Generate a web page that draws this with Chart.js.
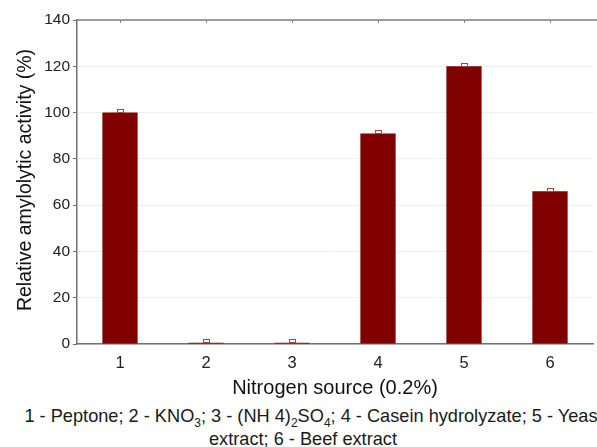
<!DOCTYPE html>
<html>
<head>
<meta charset="utf-8">
<script src="https://cdn.jsdelivr.net/npm/chart.js@4"></script>
<style>
  html, body { margin: 0; padding: 0; background: #fff; overflow: hidden; }
  #wrap { width: 630px; }
  #box { width: 616px; height: 402px; }
  .cap { font-family: Arial, "Liberation Sans", sans-serif; font-size: 18.2px; color: #1a1a1a;
         text-align: center; line-height: 23px; white-space: nowrap; }
  .first { margin-top: 3px; width: 627px; }
  .second { width: 606px; }
  sub { font-size: 12px; line-height: 0; }
</style>
</head>
<body>
<div id="wrap">
  <div id="box"><canvas id="barChart"></canvas></div>
  <div class="cap first">1 - Peptone; 2 - KNO<sub>3</sub>; 3 - (NH 4)<sub>2</sub>SO<sub>4</sub>; 4 - Casein hydrolyzate; 5 - Yeast</div>
  <div class="cap second">extract; 6 - Beef extract</div>
</div>
<script>
const categories = ["1", "2", "3", "4", "5", "6"];
const activity = [100, 0.5, 0.5, 91, 120, 66];
const activityErr = [1.5, 1.5, 1.5, 1.5, 1.5, 1.5];
const yTicks = [0, 20, 40, 60, 80, 100, 120, 140];
const yTitle = "Relative amylolytic activity (%)";

const font = "Arial, 'Liberation Sans', sans-serif";

// small hollow boxes on top of bars (error range)
const errorBars = {
  id: "errorBars",
  afterDatasetsDraw(chart) {
    const { ctx, scales } = chart;
    ctx.save();
    ctx.strokeStyle = "#b04040";
    ctx.lineWidth = 1;
    activity.forEach((v, i) => {
      const x = scales.x.getPixelForValue(i);
      const top = scales.y.getPixelForValue(v + activityErr[i]);
      const bot = scales.y.getPixelForValue(v);
      ctx.strokeRect(Math.round(x - 3) + 0.5, Math.round(top) + 0.5, 6, Math.max(2, Math.round(bot - top)));
    });
    ctx.restore();
  },
};

// top frame line with inward ticks, and the y title placed like the original
const frameAndTitle = {
  id: "frameAndTitle",
  afterDraw(chart) {
    const { ctx, chartArea, scales } = chart;
    ctx.save();
    ctx.strokeStyle = "#808080";
    ctx.lineWidth = 1.5;
    ctx.beginPath();
    ctx.moveTo(chartArea.left, chartArea.top);
    ctx.lineTo(chart.width, chartArea.top);
    ctx.stroke();
    ctx.lineWidth = 1;
    categories.forEach((c, i) => {
      const x = Math.round(scales.x.getPixelForValue(i)) + 0.5;
      ctx.beginPath();
      ctx.moveTo(x, chartArea.top);
      ctx.lineTo(x, chartArea.top + 3);
      ctx.stroke();
    });

    ctx.translate(26, 180);
    ctx.rotate(-Math.PI / 2);
    ctx.fillStyle = "#111";
    ctx.font = "19.5px " + font;
    ctx.textAlign = "center";
    ctx.textBaseline = "middle";
    ctx.fillText(yTitle, 0, 0);
    ctx.restore();
  },
};

const ctx = document.getElementById("barChart");

new Chart(ctx, {
  type: "bar",
  data: {
    labels: categories,
    datasets: [
      {
        label: yTitle,
        data: activity,
        backgroundColor: "#800000",
        borderWidth: 0,
        barPercentage: 0.41,
        categoryPercentage: 1,
      },
    ],
  },
  options: {
    responsive: true,
    maintainAspectRatio: false,
    animation: false,
    layout: { padding: { top: 20, left: 0, right: 23, bottom: 0 } },
    plugins: {
      legend: { display: false },
      tooltip: { enabled: false },
    },
    scales: {
      x: {
        offset: true,
        grid: { display: false, drawTicks: false },
        border: { color: "#707070", width: 1.5 },
        ticks: { color: "#222", font: { family: font, size: 16.5 }, padding: 10 },
        title: {
          display: true,
          text: "Nitrogen source (0.2%)",
          color: "#111",
          font: { family: font, size: 20 },
          padding: { top: 4, bottom: 2 },
        },
        afterFit(s) { s.height = 58; },
      },
      y: {
        min: 0,
        max: 140,
        afterBuildTicks(s) { s.ticks = yTicks.map((v) => ({ value: v })); },
        grid: { color: "#efefef", tickColor: "#707070", tickLength: 4 },
        border: { color: "#707070", width: 1.5 },
        ticks: { color: "#222", font: { family: font, size: 15.5 }, padding: 3 },
        afterFit(s) { s.width = 77; },
      },
    },
  },
  plugins: [errorBars, frameAndTitle],
});
</script>
</body>
</html>
